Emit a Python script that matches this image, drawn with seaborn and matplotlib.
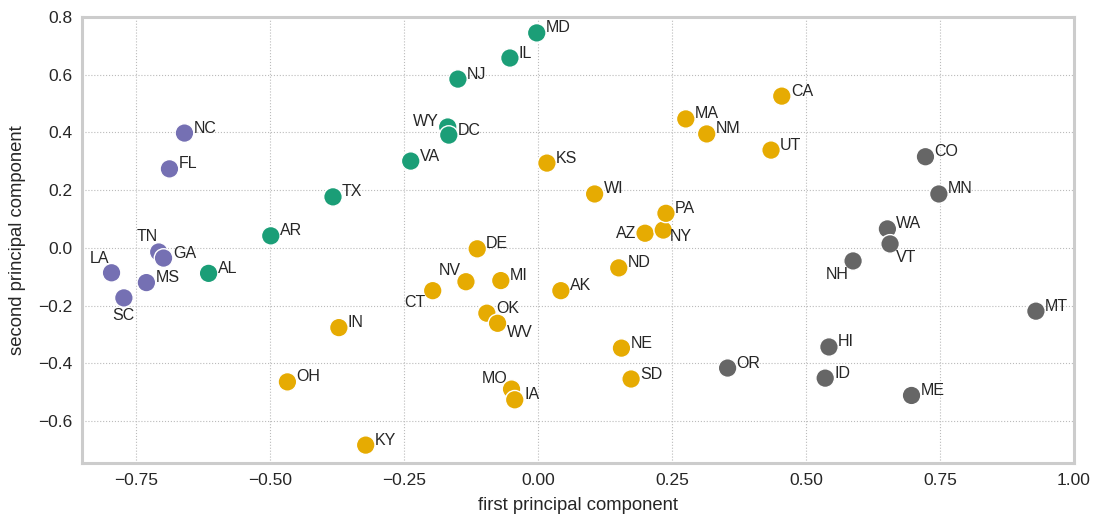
import matplotlib
matplotlib.use("Agg")
import matplotlib.pyplot as plt
import seaborn as sns
import pandas as pd

states = ["NC", "FL", "TN", "GA", "LA", "MS", "SC",
          "AL", "AR", "TX", "VA", "WY", "DC", "NJ", "IL", "MD",
          "IN", "OH", "KY", "CT", "NV", "DE", "MI", "OK", "WV", "MO", "IA",
          "AK", "ND", "NE", "SD", "AZ", "NY", "PA", "KS", "WI", "MA", "NM", "CA", "UT",
          "CO", "MN", "WA", "VT", "NH", "MT", "HI", "ID", "ME", "OR"]
pc1 = [-0.659, -0.687, -0.707, -0.698, -0.795, -0.730, -0.772,
       -0.614, -0.498, -0.382, -0.237, -0.168, -0.166, -0.149, -0.052, -0.002,
       -0.371, -0.467, -0.321, -0.196, -0.134, -0.113, -0.069, -0.095, -0.075, -0.049, -0.043,
       0.043, 0.151, 0.156, 0.174, 0.200, 0.234, 0.239, 0.017, 0.106, 0.276, 0.315, 0.455, 0.435,
       0.723, 0.748, 0.652, 0.657, 0.588, 0.929, 0.543, 0.536, 0.697, 0.354]
pc2 = [0.398, 0.274, -0.014, -0.035, -0.086, -0.120, -0.173,
       -0.088, 0.042, 0.177, 0.301, 0.419, 0.391, 0.585, 0.658, 0.745,
       -0.276, -0.464, -0.683, -0.148, -0.117, -0.003, -0.113, -0.226, -0.261, -0.489, -0.526,
       -0.148, -0.069, -0.347, -0.454, 0.051, 0.062, 0.120, 0.294, 0.187, 0.447, 0.395, 0.526, 0.339,
       0.316, 0.187, 0.066, 0.014, -0.045, -0.219, -0.343, -0.451, -0.511, -0.416]
cluster = ["B"] * 7 + ["A"] * 9 + ["C"] * 24 + ["D"] * 10

palette = {"A": "#1b9e77", "B": "#7570b3", "C": "#e6ab02", "D": "#666666"}

# label placement (offset in points, horizontal alignment)
default_off = ((6.5, 3.6), "left")
label_off = {
    "WY": ((-6.5, 4.0), "right"),
    "TN": ((-1.0, 11.5), "right"),
    "LA": ((-2.0, 10.0), "right"),
    "SC": ((0.0, -12.5), "center"),
    "GA": ((7.0, 3.6), "left"),
    "CT": ((-5.0, -8.5), "right"),
    "NV": ((-3.5, 8.0), "right"),
    "AZ": ((-6.5, 0.0), "right"),
    "MO": ((-3.0, 7.5), "right"),
    "WV": ((6.5, -6.5), "left"),
    "NH": ((-3.0, -10.0), "right"),
    "VT": ((4.5, -9.5), "left"),
    "NY": ((5.0, -4.5), "left"),
    "IA": ((7.0, 3.6), "left"),
}

df = pd.DataFrame({"state": states, "pc1": pc1, "pc2": pc2, "cluster": cluster})

sns.set_theme(style="whitegrid")
plt.rcParams["font.family"] = ["Liberation Sans", "DejaVu Sans"]

fig = plt.figure(figsize=(10.94, 5.16), dpi=100)
ax = fig.add_axes([0.075, 0.1027, 0.9067, 0.8643])

sns.scatterplot(data=df, x="pc1", y="pc2", hue="cluster", palette=palette,
                s=180, edgecolor="white", linewidth=1.0, legend=False, ax=ax, zorder=3)

for s, x, y in zip(states, pc1, pc2):
    (dx, dy), ha = label_off.get(s, default_off)
    ax.annotate(s, (x, y), xytext=(dx, dy), textcoords="offset points",
                ha=ha, va="center", fontsize=11.5, color="#262626", zorder=4)

ax.set_xlim(-0.85, 1.0)
ax.set_ylim(-0.745, 0.8)
ax.set_xticks([-0.75, -0.5, -0.25, 0.0, 0.25, 0.5, 0.75, 1.0])
ax.set_yticks([-0.6, -0.4, -0.2, 0.0, 0.2, 0.4, 0.6, 0.8])
ax.tick_params(labelsize=12.5, colors="#262626", pad=1.0)
ax.set_xlabel("first principal component", fontsize=13.3, color="#262626", labelpad=7)
ax.set_ylabel("second principal component", fontsize=13.3, color="#262626", labelpad=9)
ax.grid(True, linestyle=":", linewidth=0.8, color="#bbbbbb")
for sp in ax.spines.values():
    sp.set_color("#cccccc")
    sp.set_linewidth(2.2)

fig.savefig("out.png", dpi=100)
